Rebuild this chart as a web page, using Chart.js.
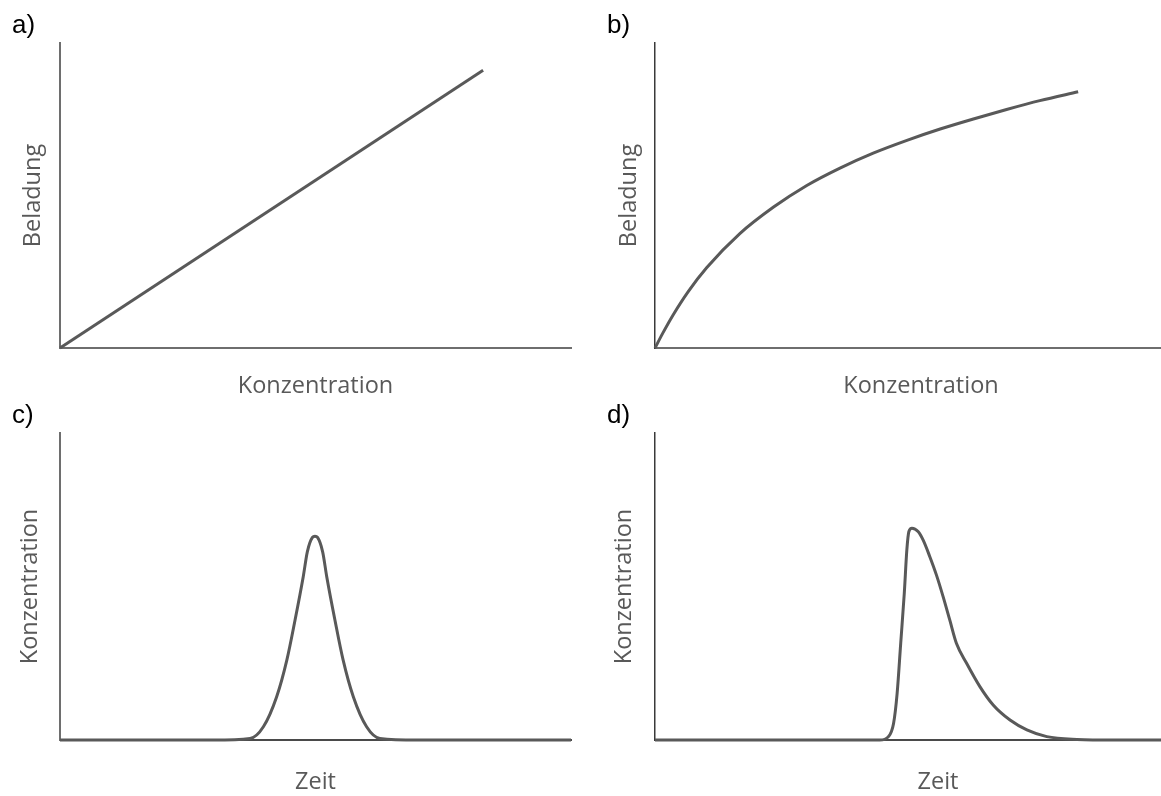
<!DOCTYPE html>
<html>
<head>
<meta charset="utf-8">
<script src="https://cdn.jsdelivr.net/npm/chart.js@4/dist/chart.umd.min.js"></script>
<style>
  html, body { margin: 0; padding: 0; background: #fff; overflow: hidden; width: 1161px; height: 796px; }
  canvas { position: absolute; }
</style>
</head>
<body>
<canvas id="pa" width="580" height="400" style="left:0;top:0"></canvas>
<canvas id="pb" width="592" height="400" style="left:595px;top:0"></canvas>
<canvas id="pc" width="580" height="404" style="left:0;top:392px"></canvas>
<canvas id="pd" width="626" height="404" style="left:595px;top:392px"></canvas>
<script>
// Panel labels and axis titles
const panelLabels = ['a)', 'b)', 'c)', 'd)'];
const xTitles = ['Konzentration', 'Konzentration', 'Zeit', 'Zeit'];
const yTitles = ['Beladung', 'Beladung', 'Konzentration', 'Konzentration'];

// a) linear isotherm
const linearX = [0, 82.8];
const linearY = [0, 91.1];

// b) favourable (Langmuir-type) isotherm
const langmuirX = [0, 1.5, 3.6, 6.5, 10.1, 16.6, 23.2, 29.7, 36.2, 42.7, 49.3, 55.8, 62.3, 68.8, 75.3, 82.8];
const langmuirY = [0, 4.8, 11.0, 18.5, 26.3, 37.5, 46.2, 53.3, 59.0, 63.9, 68.1, 71.8, 75.1, 78.2, 81.1, 84.0];

// c) symmetric elution peak
const gaussX = [0, 30, 37.2, 39.8, 42.4, 44.4, 46.0, 47.6, 48.4, 49.4, 49.9, 50.4, 51.4, 52.2, 53.8, 55.4, 57.4, 60.0, 62.6, 70, 100];
const gaussY = [0, 0, 0.5, 4.3, 14.1, 26.1, 39.1, 53.2, 61.3, 66.0, 66.4, 66.0, 61.3, 53.2, 39.1, 26.1, 14.1, 4.3, 0.5, 0, 0];

// d) tailing elution peak
const tailX = [0, 44.0, 45.7, 46.7, 47.4, 48.1, 48.8, 49.3, 49.7, 50.3, 51.5, 52.5, 53.8, 55.1, 56.4, 57.7, 59.0, 61.0, 63.6, 66.2, 69.5, 72.8, 76.7, 82.6, 90, 110.8];
const tailY = [0, 0, 1.1, 5.4, 15.2, 31.5, 47.8, 61.9, 67.9, 69.0, 67.9, 65.1, 59.7, 53.7, 46.7, 39.1, 31.5, 25.0, 17.4, 11.4, 6.5, 3.3, 1.1, 0.2, 0, 0];

const xMax = [100, 104.1, 100, 110.8];

const LINE = '#595959';
const AXIS = '#6e6e6e';
const TEXT = '#595959';

function pairs(xs, ys) { return xs.map((x, i) => ({ x: x, y: ys[i] })); }

function makePanel(id, idx, xs, ys, opts) {
  const ctx = document.getElementById(id);
  return new Chart(ctx, {
    type: 'line',
    data: {
      datasets: [{
        data: pairs(xs, ys),
        borderColor: LINE,
        borderWidth: 3,
        pointRadius: 0,
        fill: false,
        clip: false,
        tension: opts.tension,
        cubicInterpolationMode: opts.mode
      }]
    },
    options: {
      responsive: false,
      animation: false,
      devicePixelRatio: 1,
      events: [],
      layout: { padding: { left: 12, right: opts.padRight, top: 0, bottom: 0 } },
      plugins: {
        legend: { display: false },
        tooltip: { enabled: false },
        title: {
          display: true,
          text: panelLabels[idx],
          align: 'start',
          color: '#000',
          font: { family: 'Liberation Sans', size: 26, weight: 'normal', lineHeight: 1.2 },
          padding: { top: opts.labelTop, bottom: opts.labelBottom }
        }
      },
      scales: {
        x: {
          type: 'linear',
          min: 0,
          max: xMax[idx],
          grid: { display: false },
          ticks: { display: false },
          border: { display: true, color: opts.xAxisColor, width: 2 },
          title: {
            display: true,
            text: xTitles[idx],
            color: TEXT,
            font: { family: 'Open Sans', size: 23.5, lineHeight: 1.2 },
            padding: { top: 0, bottom: 0 }
          },
          afterFit: s => { s.height = opts.xHeight; }
        },
        y: {
          type: 'linear',
          min: 0,
          max: 100,
          grid: { display: false },
          ticks: { display: false },
          border: { display: true, color: opts.yAxisColor, width: opts.yAxisWidth },
          title: {
            display: true,
            text: yTitles[idx],
            color: TEXT,
            font: { family: 'Open Sans', size: 23.5, lineHeight: 1.2 },
            padding: { top: opts.yTitlePad, bottom: 0 }
          },
          afterFit: s => { s.width = 48; }
        }
      }
    }
  });
}

makePanel('pa', 0, linearX, linearY, {
  tension: 0, mode: 'default', padRight: 9, labelTop: 10.4, labelBottom: 1.4, xHeight: 52,
  xAxisColor: AXIS, yAxisColor: AXIS, yAxisWidth: 2, yTitlePad: 6.9
});
makePanel('pb', 1, langmuirX, langmuirY, {
  tension: 0.4, mode: 'monotone', padRight: 0, labelTop: 10.4, labelBottom: 1.4, xHeight: 52,
  xAxisColor: AXIS, yAxisColor: '#3a3a3a', yAxisWidth: 1.5, yTitlePad: 8.2
});
makePanel('pc', 2, gaussX, gaussY, {
  tension: 0.4, mode: 'monotone', padRight: 9, labelTop: 8.4, labelBottom: 1.4, xHeight: 56,
  xAxisColor: '#4a4a4a', yAxisColor: AXIS, yAxisWidth: 2, yTitlePad: 4.2
});
makePanel('pd', 3, tailX, tailY, {
  tension: 0.4, mode: 'monotone', padRight: 0, labelTop: 8.4, labelBottom: 1.4, xHeight: 56,
  xAxisColor: '#4a4a4a', yAxisColor: '#3a3a3a', yAxisWidth: 1.5, yTitlePad: 3.2
});
</script>
</body>
</html>
